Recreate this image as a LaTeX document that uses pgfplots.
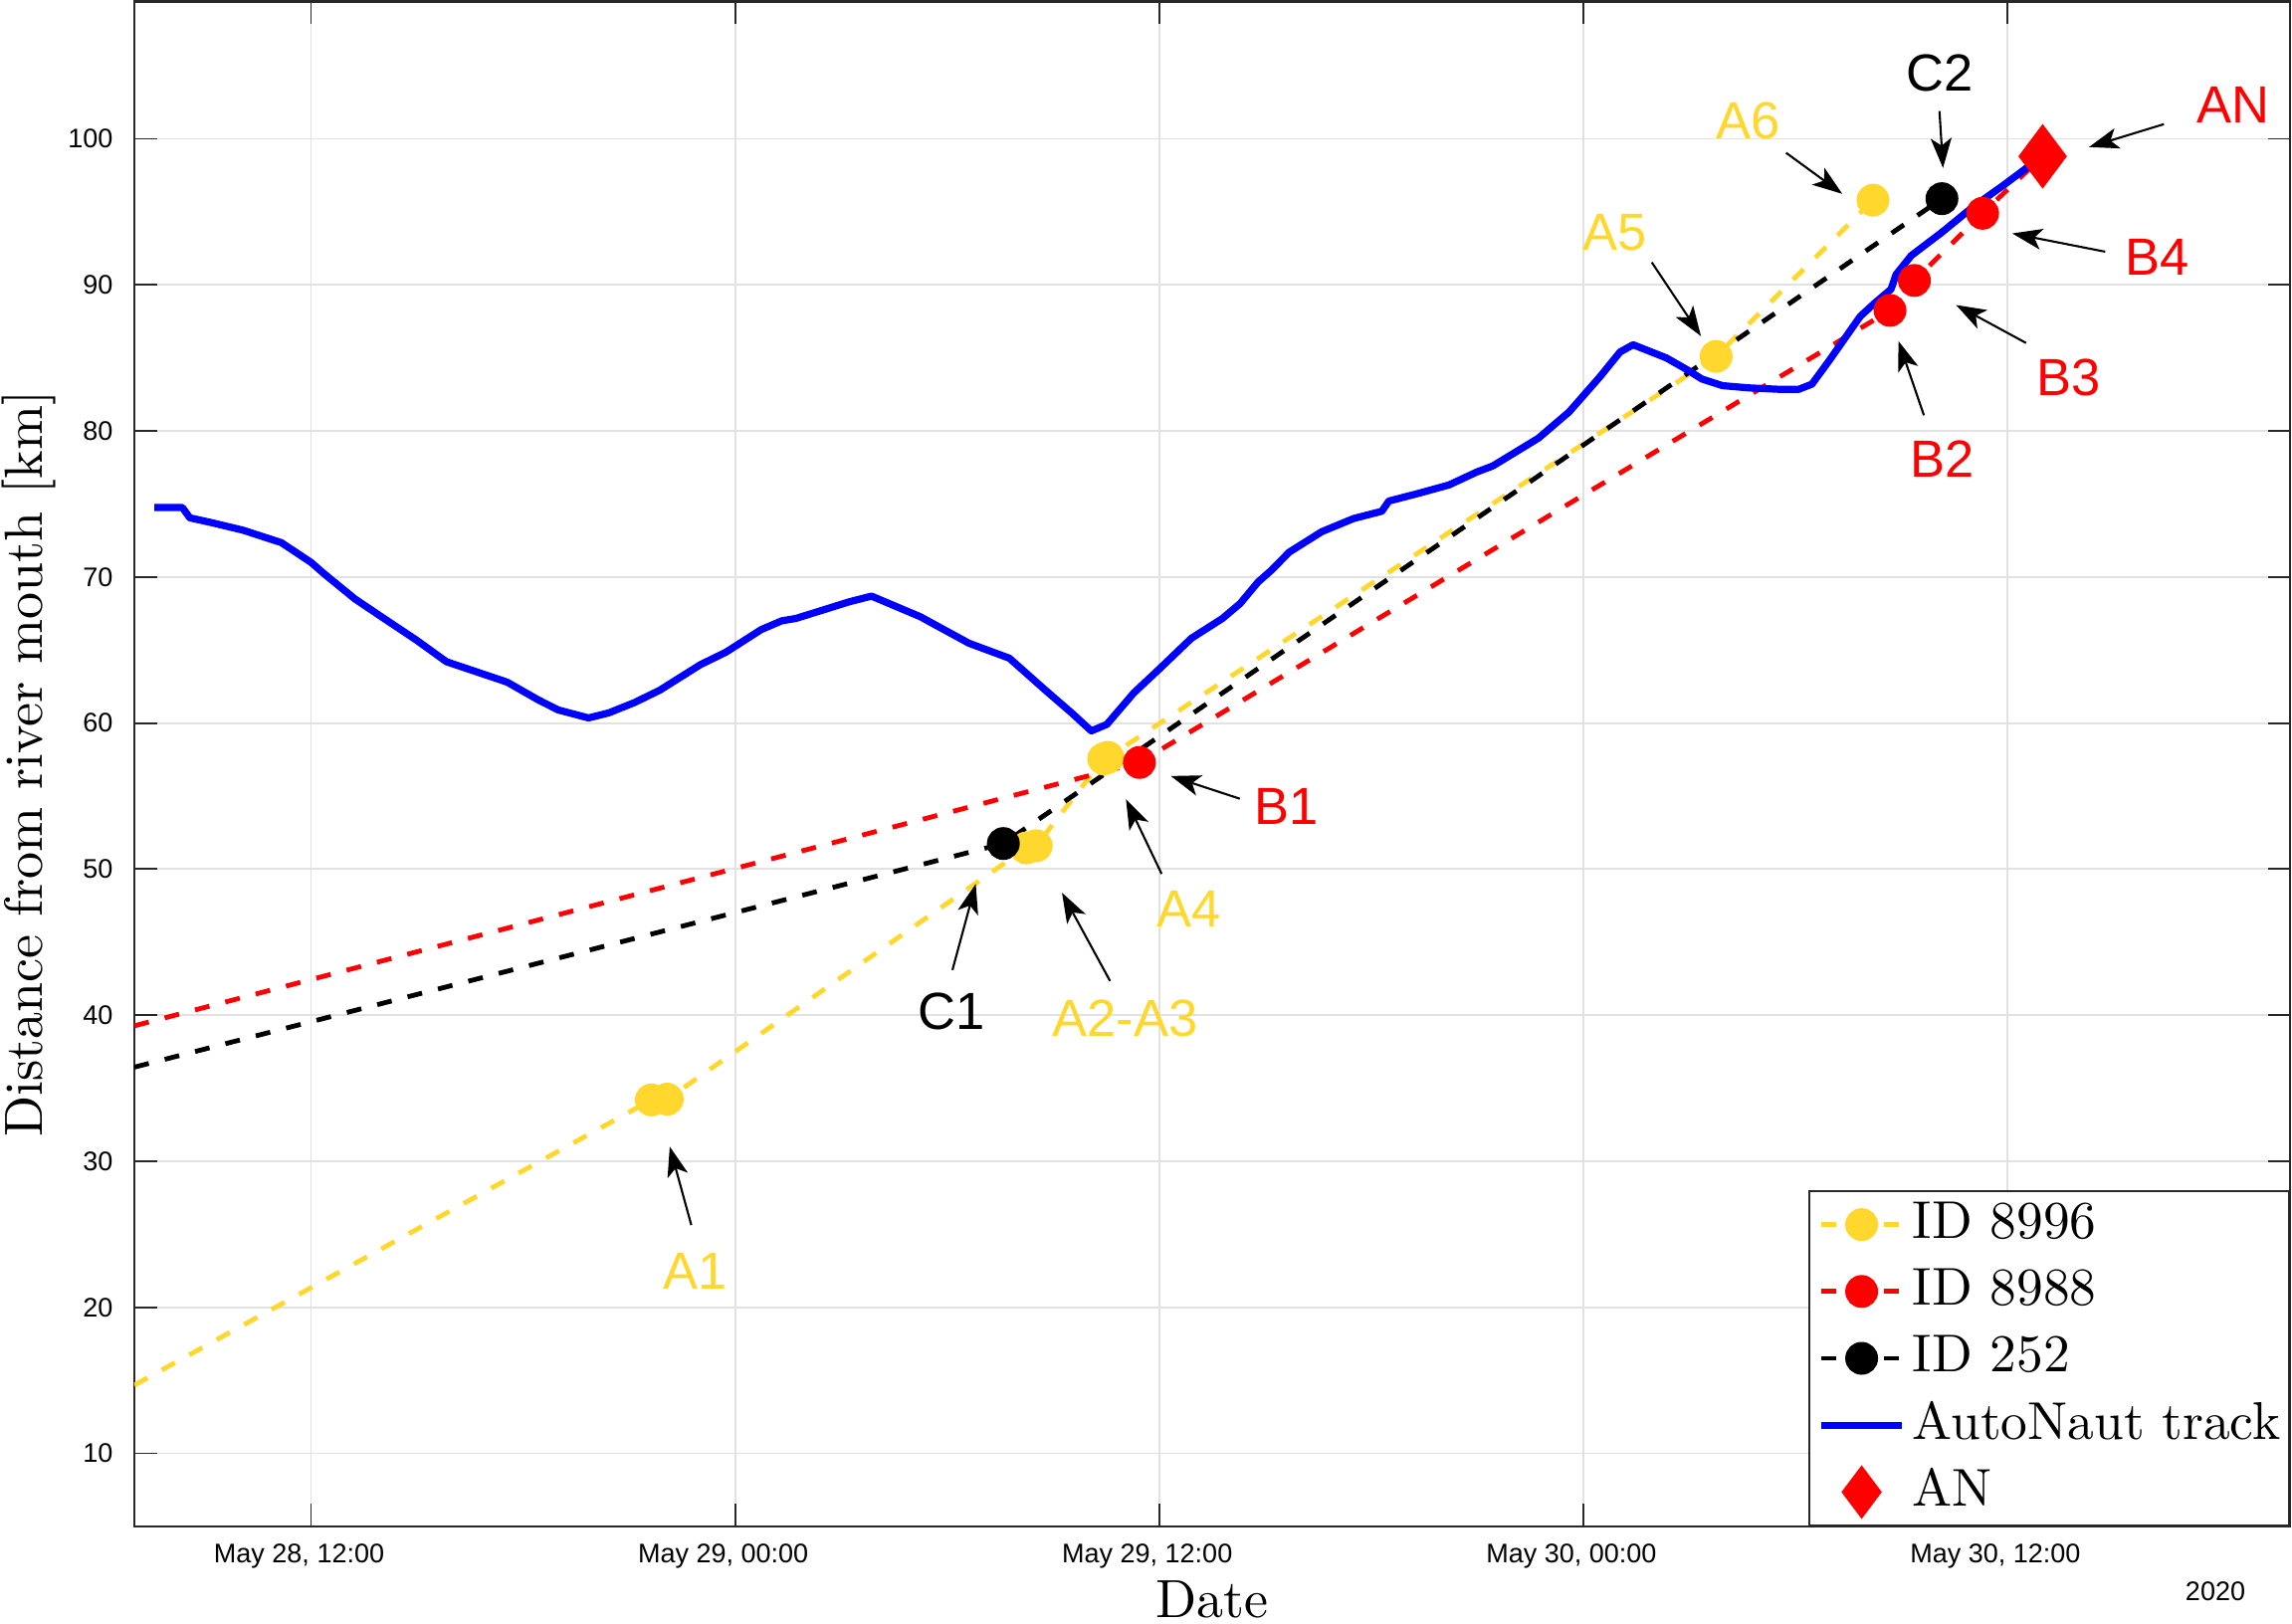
\documentclass[border=0pt]{standalone}
\usepackage{fontspec}
\usepackage{pgfplots}
\usepackage{pgfplotstable}
\pgfplotsset{compat=1.18}
\usetikzlibrary{arrows.meta}
\newfontfamily\arial{Liberation Sans}
\newfontfamily\lmten{lmroman10-regular.otf}
\definecolor{myyellow}{RGB}{255,215,45}
\definecolor{myred}{RGB}{255,0,0}
\definecolor{myblue}{RGB}{0,0,255}
\definecolor{gridgray}{RGB}{226,226,226}
\definecolor{axisgray}{RGB}{40,40,40}
\pgfplotsset{
  linelegend/.style={legend image code/.code={\draw[##1, mark indices={2}] plot coordinates {(0pt,0pt) (13.5pt,0pt) (27pt,0pt)};}},
  anlegend/.style={legend image code/.code={\path (0pt,0pt) (27pt,0pt); \draw[##1, mark size=8.5pt] plot coordinates {(13.5pt,0pt)};}},
}

\pgfplotstableread{
x y
7.00 14.67
21.63 34.20
22.08 34.25
32.24 51.45
32.52 51.60
34.43 57.55
34.55 57.65
51.76 85.10
56.20 95.80
}\yellowdata

\pgfplotstableread{
x y
7.00 39.27
35.44 57.30
56.68 88.25
57.37 90.30
59.30 94.90
61.00 98.80
}\reddata

\pgfplotstableread{
x y
7.00 36.44
31.59 51.75
58.15 95.90
}\blackdata

\pgfplotstableread{
x y
7.57 74.75
8.36 74.75
8.57 74.05
9.22 73.70
10.08 73.20
11.16 72.35
12.00 71.00
12.38 70.20
13.24 68.50
14.10 67.10
14.97 65.70
15.83 64.20
17.55 62.80
18.42 61.60
18.99 60.90
19.85 60.35
20.43 60.70
21.15 61.40
21.87 62.25
23.02 64.00
23.74 64.85
24.74 66.40
25.32 67.00
25.72 67.16
27.23 68.30
27.86 68.69
29.24 67.28
30.62 65.46
31.76 64.44
32.76 62.29
33.52 60.70
34.08 59.46
34.52 59.91
35.28 62.06
36.03 63.76
36.91 65.80
37.79 67.16
38.29 68.18
38.80 69.66
39.17 70.45
39.68 71.70
40.60 73.10
41.50 74.00
42.30 74.50
42.50 75.20
43.30 75.70
44.20 76.30
45.00 77.20
45.44 77.60
46.73 79.50
47.60 81.30
48.47 83.70
49.04 85.40
49.41 85.90
50.35 85.00
50.93 84.20
51.36 83.55
51.94 83.10
52.66 82.95
53.53 82.85
54.10 82.85
54.47 83.20
54.97 84.85
55.84 87.85
56.27 88.80
56.71 89.70
56.85 90.70
57.28 92.00
58.15 93.60
59.01 95.30
59.88 96.80
60.60 98.10
61.00 98.80
}\bluedata

\pgfplotstableread{
x y
61.00 98.80
}\andata

\begin{document}
\begin{tikzpicture}
\begin{axis}[
  name=ax, at={(0,0)}, anchor=south west,
  scale only axis, width=722pt, height=510.8pt,
  xmin=7, xmax=68, ymin=5, ymax=109.4,
  xtick={12,24,36,48,60},
  xticklabels={{May 28, 12:00},{May 29, 00:00},{May 29, 12:00},{May 30, 00:00},{May 30, 12:00}},
  ytick={10,20,30,40,50,60,70,80,90,100},
  grid=major,
  major grid style={color=gridgray, line width=0.6pt},
  tick align=inside,
  major tick length=7.5pt,
  every tick/.style={color=axisgray, line width=0.6pt},
  axis line style={color=axisgray, line width=0.7pt},
  /pgf/number format/assume math mode=true,
  xticklabel style={font=\arial\fontsize{9}{10}\selectfont, anchor=center, yshift=-10pt, xshift=-4pt},
  yticklabel style={font=\arial\fontsize{9}{10}\selectfont, anchor=east, xshift=-3.7pt},
  legend cell align=left,
  linelegend,
  legend style={at={(1,0)}, anchor=south east, draw=axisgray, line width=0.6pt,
    font=\lmten\fontsize{17.8}{21}\selectfont, inner xsep=2.9pt, inner ysep=2.6pt,
    row sep=5.2pt, column sep=2.4pt,
    nodes={inner sep=0pt, text height=13.2pt, text depth=4pt}},
]
\addplot[myyellow, line width=1.6pt, dash pattern=on 5pt off 5.5pt, mark=*, mark size=4.7pt,
  mark indices={2,3,4,5,6,7,8,9}, mark options={solid, fill=myyellow, draw=myyellow}]
  table[x=x,y=y]{\yellowdata};
\addlegendentry{ID 8996}
\addplot[myred, line width=1.6pt, dash pattern=on 5pt off 5.5pt, mark=*, mark size=4.7pt,
  mark indices={2,3,4,5}, mark options={solid, fill=myred, draw=myred}]
  table[x=x,y=y]{\reddata};
\addlegendentry{ID 8988}
\addplot[black, line width=1.6pt, dash pattern=on 5pt off 5.5pt, mark=*, mark size=4.7pt,
  mark indices={2,3}, mark options={solid, fill=black, draw=black}]
  table[x=x,y=y]{\blackdata};
\addlegendentry{ID 252}
\addplot[myblue, line width=2.4pt, solid, no markers, line join=round]
  table[x=x,y=y]{\bluedata};
\addlegendentry{AutoNaut track}
\addplot[only marks, mark=diamond*, mark size=10.5pt, mark options={solid, fill=myred, draw=myred}, anlegend]
  table[x=x,y=y]{\andata};
\addlegendentry{AN}

% annotations
\tikzset{lab/.style={font=\arial\fontsize{17.5}{20}\selectfont, inner sep=0pt},
         arr/.style={-{Stealth[length=10pt,width=7pt,inset=2.5pt]}, line width=0.7pt, black}}
\node[lab, myyellow] at (axis cs:22.88,22.47) {A1};
\draw[arr] (axis cs:22.76,25.63) -- (axis cs:22.15,31.0);
\node[lab, black] at (axis cs:30.12,40.27) {C1};
\draw[arr] (axis cs:30.15,43.09) -- (axis cs:30.81,48.99);
\node[lab, myyellow] at (axis cs:35.04,39.77) {A2-A3};
\draw[arr] (axis cs:34.61,42.34) -- (axis cs:33.25,48.38);
\node[lab, myyellow] at (axis cs:36.85,47.29) {A4};
\draw[arr] (axis cs:36.07,49.67) -- (axis cs:35.06,54.78);
\node[lab, myred] at (axis cs:39.61,54.32) {B1};
\draw[arr] (axis cs:38.28,54.82) -- (axis cs:36.33,56.37);
\node[lab, myyellow] at (axis cs:48.9,93.57) {A5};
\draw[arr] (axis cs:49.94,91.54) -- (axis cs:51.33,86.49);
\node[lab, myyellow] at (axis cs:52.66,101.25) {A6};
\draw[arr] (axis cs:53.74,99.04) -- (axis cs:55.33,96.23);
\node[lab, black] at (axis cs:58.08,104.5) {C2};
\draw[arr] (axis cs:58.08,101.9) -- (axis cs:58.18,98.0);
\node[lab, myred] at (axis cs:66.38,102.3) {AN};
\draw[arr] (axis cs:64.43,101.0) -- (axis cs:62.31,99.43);
\node[lab, myred] at (axis cs:64.24,91.88) {B4};
\draw[arr] (axis cs:62.77,92.27) -- (axis cs:60.14,93.52);
\node[lab, myred] at (axis cs:61.73,83.67) {B3};
\draw[arr] (axis cs:60.53,86.02) -- (axis cs:58.55,88.62);
\node[lab, myred] at (axis cs:58.15,78.07) {B2};
\draw[arr] (axis cs:57.64,81.07) -- (axis cs:56.92,86.15);
\end{axis}
\node[font=\lmten\fontsize{18}{20}\selectfont, anchor=center, inner sep=0pt] at ([yshift=-24.6pt]ax.south) {Date};
\node[font=\lmten\fontsize{18}{20}\selectfont, anchor=center, rotate=90, inner sep=0pt] at ([xshift=-35.3pt]ax.west) {Distance from river mouth [km]};
\node[font=\arial\fontsize{9}{10}\selectfont, anchor=center, inner sep=0pt] at ([xshift=-25pt,yshift=-21.7pt]ax.south east) {2020};
\pgfresetboundingbox
\useasboundingbox ([xshift=-45pt,yshift=-32.67pt]ax.south west) rectangle ([xshift=0.67pt,yshift=0.5pt]ax.north east);
\end{tikzpicture}
\end{document}
